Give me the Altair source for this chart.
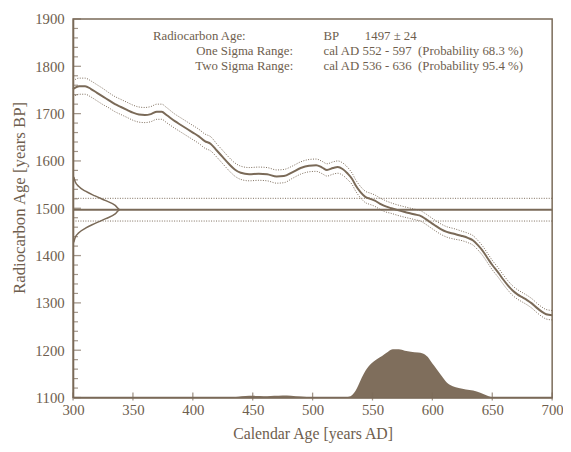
import altair as alt
import pandas as pd

# ---------------- data ----------------
curve_year = [300, 305, 310, 315, 320, 325, 330, 335, 340, 345,
              350, 355, 360, 365, 370, 374, 378, 385, 390, 395,
              400, 405, 410, 415, 420, 425, 430, 435, 440, 447,
              455, 462, 470, 476, 483, 490, 497, 503, 508, 512,
              517, 521, 525, 529, 533, 536, 540, 544, 548, 552,
              556, 560, 566, 571, 577, 582, 587, 590, 594, 598,
              602, 607, 612, 618, 624, 630, 634, 638, 642, 646,
              650, 655, 659, 663, 667, 671, 675, 679, 683, 687,
              691, 695, 700]
curve_bp = [1752, 1758, 1758, 1752, 1744, 1736, 1728, 1720, 1714, 1708,
            1702, 1698, 1697, 1699, 1704, 1704, 1697, 1684, 1676, 1668,
            1660, 1652, 1642, 1636, 1622, 1608, 1594, 1582, 1575, 1572,
            1573, 1572, 1567, 1568, 1576, 1585, 1590, 1591, 1586, 1581,
            1585, 1587, 1583, 1574, 1562, 1548, 1534, 1524, 1520, 1516,
            1510, 1505, 1500, 1496, 1492, 1489, 1486, 1484, 1478, 1471,
            1464, 1456, 1450, 1446, 1442, 1437, 1432, 1422, 1410, 1395,
            1380, 1364, 1350, 1337, 1326, 1318, 1312, 1306, 1299, 1290,
            1282, 1276, 1274]
curve_err = [17, 17, 17, 17, 17, 17, 16, 16, 16, 16,
             16, 16, 16, 16, 16, 16, 16, 15, 15, 15,
             15, 15, 15, 15, 14, 14, 14, 14, 14, 14,
             14, 14, 14, 14, 13, 13, 13, 13, 13, 13,
             13, 13, 13, 13, 12, 12, 12, 12, 12, 12,
             12, 12, 11, 11, 11, 11, 11, 11, 11, 11,
             11, 11, 11, 11, 10, 10, 10, 10, 10, 10,
             10, 10, 10, 10, 10, 10, 10, 10, 10, 10,
             10, 10, 10]

c14_age = 1497
c14_sigma = 24

gauss_bp = [1428, 1438, 1448, 1458, 1468, 1478, 1488, 1497, 1506, 1516, 1526, 1536, 1546, 1556, 1566]
gauss_x = [300.6, 301.8, 304.8, 310.4, 318.4, 327.3, 335.2, 339.0, 335.2, 327.3, 318.4, 310.4, 304.8, 301.8, 300.6]

prob_year = [300, 430, 438, 444, 450, 456, 462, 468, 475, 482, 490, 500, 528,
             531, 534, 536, 538, 541, 544, 549, 553, 558, 563, 567, 572, 577,
             582, 588, 592, 596, 600, 603, 607, 612, 617, 622, 628, 634, 640,
             645, 649, 652, 700]
prob_bp = [1100, 1100, 1101.5, 1103, 1103.5, 1103, 1102.5, 1103.5, 1104.5, 1104, 1102, 1100.8, 1100.8,
           1102, 1108, 1115, 1125, 1142, 1156, 1172, 1180, 1188, 1197, 1202, 1202, 1199,
           1197, 1195, 1193, 1186, 1172, 1162, 1148, 1132, 1124, 1120, 1117, 1115, 1110,
           1105, 1101, 1100, 1100]

x_major = [300, 350, 400, 450, 500, 550, 600, 650, 700]
y_major = [1100, 1200, 1300, 1400, 1500, 1600, 1700, 1800, 1900]
y_minor = [1120, 1140, 1160, 1180, 1220, 1240, 1260, 1280, 1320, 1340, 1360, 1380,
           1420, 1440, 1460, 1480, 1520, 1540, 1560, 1580, 1620, 1640, 1660, 1680,
           1720, 1740, 1760, 1780, 1820, 1840, 1860, 1880]

info_labels = ["Radiocarbon Age:", "One Sigma Range:", "Two Sigma Range:"]
info_values = ["BP", "cal AD 552 - 597", "cal AD 536 - 636"]
info_extra = ["1497 \u00b1 24", "(Probability 68.3 %)", "(Probability 95.4 %)"]

# ---------------- styling ----------------
FONT = "Liberation Serif"
LINE = "#7a6a58"
TEXT = "#6e5e4e"
FILL = "#7f6e5c"

W, H = 486, 384

curve = pd.DataFrame({"year": curve_year, "bp": curve_bp, "err": curve_err})
curve["hi"] = curve["bp"] + curve["err"]
curve["lo"] = curve["bp"] - curve["err"]
gauss = pd.DataFrame({"bp": gauss_bp, "x": gauss_x})
prob = pd.DataFrame({"year": prob_year, "bp": prob_bp})
sig = pd.DataFrame({"bp": [c14_age - c14_sigma, c14_age + c14_sigma]})
one = pd.DataFrame({"k": [0]})

xs = alt.Scale(domain=[300, 700], nice=False, zero=False)
ys = alt.Scale(domain=[1100, 1900], nice=False, zero=False)

xaxis = alt.Axis(values=x_major, title="Calendar Age [years AD]", ticks=False, tickSize=0,
                 labelPadding=5, titlePadding=9, grid=False, format="d", labelFlush=False,
                 titleFontSize=16)
yaxis = alt.Axis(values=y_major, title="Radiocarbon Age [years BP]", ticks=False, tickSize=0,
                 labelPadding=9, titlePadding=6, grid=False, format="d", labelFlush=False,
                 titleFontSize=17, titleY=181)


def X(field):
    return alt.X(field, type="quantitative", scale=xs, axis=xaxis)


def Y(field):
    return alt.Y(field, type="quantitative", scale=ys, axis=yaxis)


area = alt.Chart(prob).mark_area(color=FILL, opacity=1, interpolate="monotone").encode(
    x=X("year"), y=Y("bp"), y2=alt.datum(1100))

center = alt.Chart(curve).mark_line(color=LINE, strokeWidth=2, interpolate="monotone").encode(
    x=X("year"), y=Y("bp"))
upper = alt.Chart(curve).mark_line(color=LINE, strokeWidth=1, strokeDash=[1, 1.5],
                                   interpolate="monotone").encode(x=X("year"), y=Y("hi"))
lower = alt.Chart(curve).mark_line(color=LINE, strokeWidth=1, strokeDash=[1, 1.5],
                                   interpolate="monotone").encode(x=X("year"), y=Y("lo"))

age_rule = alt.Chart(one).mark_rule(color=LINE, strokeWidth=2).encode(y=alt.datum(c14_age))
sig_rules = alt.Chart(sig).mark_rule(color=LINE, strokeWidth=1, strokeDash=[1, 1.5]).encode(
    y=Y("bp"))

gline = alt.Chart(gauss).mark_line(color=LINE, strokeWidth=1.5, interpolate="monotone").encode(
    x=X("x"), y=Y("bp"), order=alt.Order("bp:Q"))

yt_major = alt.Chart(pd.DataFrame({"v": y_major})).mark_tick(
    orient="horizontal", size=8, thickness=1.3, color=LINE).encode(y=Y("v"), x=alt.value(4))
yt_minor = alt.Chart(pd.DataFrame({"v": y_minor})).mark_tick(
    orient="horizontal", size=5, thickness=1.2, color=LINE).encode(y=Y("v"), x=alt.value(2.5))
xt_major = alt.Chart(pd.DataFrame({"v": x_major})).mark_tick(
    orient="vertical", size=8, thickness=1.3, color=LINE).encode(x=X("v"), y=alt.value(H - 1))

label_x = [81, 125, 124]
extra_x = [296, 350, 350]
row_y = [17, 33, 48]
FS = 13
texts = []
for i in range(3):
    base = alt.Chart(one)
    texts.append(base.mark_text(text=info_labels[i], align="left", baseline="middle", font=FONT,
                                fontSize=FS, color=TEXT).encode(x=alt.value(label_x[i]), y=alt.value(row_y[i])))
    texts.append(base.mark_text(text=info_values[i], align="left", baseline="middle", font=FONT,
                                fontSize=FS, color=TEXT).encode(x=alt.value(254), y=alt.value(row_y[i])))
    texts.append(base.mark_text(text=info_extra[i], align="left", baseline="middle", font=FONT,
                                fontSize=FS, color=TEXT).encode(x=alt.value(extra_x[i]),
                                                                y=alt.value(row_y[i])))

chart = alt.layer(area, sig_rules, age_rule, gline, upper, lower, center,
                  yt_major, yt_minor, xt_major, *texts).properties(
    width=W, height=H,
    autosize=alt.AutoSizeParams(type="none"),
    padding={"left": 66, "top": 8, "right": 11, "bottom": 44},
    background="white",
).configure_view(
    stroke=LINE, strokeWidth=1.5
).configure_axis(
    domainColor=LINE, domainWidth=1.5,
    labelFont=FONT, labelFontSize=15, labelColor=TEXT,
    titleFont=FONT, titleColor=TEXT, titleFontWeight="normal",
)

chart.save("out.html", embed_options={"renderer": "svg", "actions": False})
